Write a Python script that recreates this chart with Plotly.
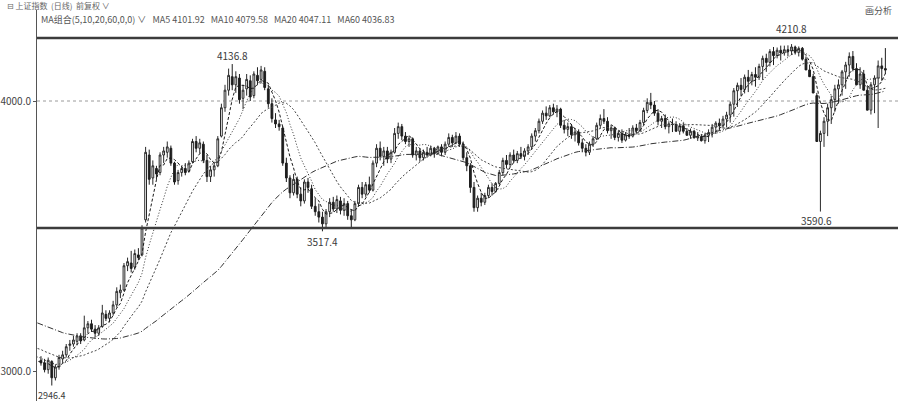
import plotly.graph_objects as go
import pandas as pd

# Daily closes preceding the visible window (used only to seed the moving averages)
warmup_close = [
    3350, 3340, 3360, 3330, 3320, 3310, 3330, 3300, 3290, 3280,
    3300, 3270, 3260, 3250, 3270, 3240, 3230, 3250, 3220, 3210,
    3230, 3200, 3190, 3210, 3180, 3170, 3190, 3160, 3150, 3170,
    3180, 3160, 3150, 3140, 3160, 3150, 3130, 3140, 3120, 3110,
    3130, 3140, 3150, 3130, 3120, 3110, 3100, 3120, 3090, 3080,
    3070, 3090, 3060, 3050, 3070, 3040, 3030, 3050, 3020, 3040,
]

# Visible daily candles: open / high / low / close
open_ = [
    3040, 3030, 3005, 3035, 2975, 3015, 3045, 3060, 3095, 3100,
    3110, 3130, 3115, 3160, 3175, 3155, 3140, 3165, 3210, 3195,
    3215, 3245, 3290, 3300, 3390, 3400, 3385, 3430, 3430, 3560,
    3800, 3715, 3750, 3735, 3800, 3810, 3825, 3770, 3705, 3735,
    3750, 3740, 3775, 3850, 3825, 3840, 3780, 3720, 3745, 3760,
    3870, 3975, 4040, 4090, 4060, 4085, 4010, 4045, 4075, 4020,
    4095, 4080, 4110, 4045, 3990, 3930, 3915, 3900, 3770, 3715,
    3660, 3710, 3655, 3630, 3700, 3675, 3610, 3590, 3570, 3545,
    3590, 3625, 3600, 3630, 3595, 3620, 3575, 3560, 3620, 3680,
    3655, 3690, 3670, 3770, 3825, 3795, 3815, 3785, 3810, 3880,
    3905, 3870, 3850, 3860, 3800, 3815, 3790, 3810, 3800, 3825,
    3805, 3830, 3810, 3840, 3865, 3845, 3870, 3840, 3790, 3760,
    3680, 3605, 3640, 3625, 3650, 3680, 3665, 3695, 3735, 3780,
    3765, 3800, 3780, 3805, 3795, 3815, 3830, 3870, 3890, 3925,
    3955, 3945, 3975, 3960, 3970, 3910, 3895, 3905, 3875, 3885,
    3845, 3825, 3810, 3840, 3860, 3910, 3935, 3925, 3890, 3900,
    3865, 3880, 3855, 3875, 3870, 3900, 3890, 3920, 3965, 3995,
    3985, 3955, 3925, 3935, 3905, 3915, 3913, 3888, 3908, 3888,
    3873, 3888, 3863, 3868, 3853, 3873, 3883, 3903, 3918, 3908,
    3933, 3948, 3988, 4038, 4058, 4043, 4088, 4073, 4098, 4088,
    4128, 4158, 4143, 4183, 4168, 4188, 4178, 4190, 4185, 4200,
    4180, 4195, 4155, 4115, 4090, 4020, 3850, 3880, 3925, 3975,
    4005, 4045, 4060, 4108, 4133.4, 4165, 4120, 4060, 4100, 4040,
    3966.2, 4060, 4085, 4130, 4120,
]
high = [
    3055, 3045, 3050, 3040, 3025, 3060, 3075, 3100, 3115, 3130,
    3140, 3140, 3205, 3185, 3190, 3170, 3170, 3245, 3225, 3225,
    3260, 3310, 3320, 3400, 3420, 3445, 3450, 3455, 3540, 3830,
    3820, 3780, 3760, 3810, 3830, 3850, 3835, 3775, 3745, 3760,
    3770, 3780, 3860, 3870, 3860, 3850, 3800, 3760, 3775, 3870,
    3990, 4060, 4120, 4136.8, 4110, 4100, 4060, 4100, 4095, 4110,
    4125, 4130, 4125, 4060, 4010, 3955, 3930, 3905, 3790, 3725,
    3730, 3720, 3680, 3710, 3715, 3690, 3640, 3620, 3590, 3600,
    3640, 3645, 3650, 3645, 3640, 3630, 3600, 3630, 3690, 3700,
    3700, 3720, 3780, 3840, 3850, 3830, 3830, 3820, 3900, 3920,
    3915, 3885, 3870, 3865, 3830, 3825, 3820, 3830, 3835, 3830,
    3835, 3840, 3850, 3880, 3875, 3885, 3880, 3850, 3810, 3770,
    3700, 3650, 3660, 3660, 3690, 3695, 3700, 3745, 3790, 3800,
    3810, 3820, 3815, 3830, 3825, 3840, 3880, 3900, 3935, 3965,
    3980, 3985, 3990, 3985, 3975, 3930, 3920, 3915, 3900, 3895,
    3860, 3840, 3850, 3870, 3920, 3950, 3970, 3940, 3910, 3905,
    3890, 3895, 3885, 3900, 3910, 3915, 3930, 3975, 4010, 4030,
    4000, 3970, 3945, 3950, 3925, 3935, 3925, 3918, 3920, 3900,
    3898, 3893, 3885, 3878, 3880, 3895, 3915, 3925, 3935, 3945,
    3960, 3998, 4048, 4068, 4085, 4098, 4115, 4108, 4125, 4138,
    4168, 4175, 4192, 4200, 4198, 4205, 4205, 4206, 4210.8, 4205,
    4202, 4200, 4165, 4135, 4100, 4030, 3890, 3940, 3990, 4020,
    4060, 4080, 4115, 4145, 4180, 4185, 4140, 4125, 4115, 4055,
    4070, 4095, 4150, 4160, 4196,
]
low = [
    3020, 2995, 2990, 2946.4, 2965, 3005, 3030, 3050, 3075, 3090,
    3095, 3100, 3110, 3140, 3145, 3125, 3130, 3160, 3185, 3180,
    3205, 3235, 3270, 3295, 3370, 3365, 3375, 3410, 3425, 3550,
    3690, 3690, 3710, 3725, 3770, 3790, 3760, 3690, 3690, 3720,
    3725, 3735, 3770, 3810, 3805, 3770, 3700, 3700, 3720, 3755,
    3865, 3960, 4020, 4040, 4030, 3990, 3970, 4020, 4000, 4010,
    4060, 4065, 4040, 3975, 3920, 3900, 3890, 3760, 3700, 3640,
    3650, 3640, 3610, 3620, 3660, 3600, 3575, 3550, 3517.4, 3530,
    3570, 3590, 3585, 3580, 3575, 3560, 3530, 3555, 3610, 3640,
    3645, 3660, 3665, 3755, 3780, 3760, 3770, 3770, 3805, 3860,
    3855, 3840, 3830, 3790, 3780, 3775, 3780, 3790, 3795, 3790,
    3800, 3795, 3800, 3830, 3830, 3840, 3830, 3780, 3740, 3660,
    3590, 3590, 3610, 3615, 3640, 3650, 3660, 3690, 3725, 3750,
    3755, 3770, 3770, 3785, 3780, 3800, 3820, 3850, 3880, 3915,
    3930, 3940, 3950, 3940, 3900, 3880, 3870, 3860, 3850, 3835,
    3810, 3795, 3800, 3830, 3855, 3900, 3915, 3880, 3860, 3855,
    3850, 3845, 3850, 3860, 3865, 3880, 3885, 3910, 3955, 3970,
    3945, 3910, 3900, 3895, 3880, 3885, 3895, 3875, 3880, 3878,
    3860, 3865, 3852, 3850, 3842, 3848, 3865, 3878, 3890, 3898,
    3902, 3920, 3942, 3978, 4018, 4028, 4033, 4058, 4053, 4078,
    4078, 4108, 4128, 4133, 4158, 4150, 4168, 4165, 4170, 4172,
    4165, 4150, 4140, 4100, 4075, 4010, 3590.6, 3830, 3870, 3915,
    3960, 3990, 4020, 4045, 4090, 4110, 4105, 4045, 4050, 4025,
    3950, 3955, 3900, 4075, 4100, 4105,
]
close = [
    3030, 3005, 3040, 2975, 3015, 3050, 3060, 3090, 3100, 3115,
    3130, 3112, 3160, 3175, 3155, 3140, 3160, 3215, 3195, 3215,
    3245, 3295, 3300, 3390, 3405, 3380, 3435, 3420, 3530, 3810,
    3710, 3760, 3730, 3800, 3815, 3830, 3770, 3700, 3735, 3750,
    3735, 3770, 3850, 3825, 3845, 3780, 3720, 3745, 3760, 3860,
    3975, 4040, 4095, 4060, 4090, 4005, 4040, 4080, 4015, 4100,
    4075, 4115, 4050, 3990, 3935, 3915, 3905, 3770, 3715, 3660,
    3710, 3655, 3630, 3700, 3680, 3610, 3590, 3570, 3545, 3590,
    3625, 3600, 3635, 3595, 3620, 3575, 3560, 3620, 3680, 3655,
    3690, 3670, 3770, 3825, 3795, 3815, 3785, 3810, 3880, 3905,
    3870, 3850, 3860, 3800, 3815, 3790, 3810, 3800, 3825, 3805,
    3830, 3810, 3840, 3865, 3845, 3870, 3840, 3790, 3760, 3680,
    3605, 3640, 3625, 3650, 3680, 3665, 3695, 3735, 3780, 3765,
    3800, 3780, 3805, 3795, 3815, 3830, 3870, 3890, 3925, 3955,
    3945, 3975, 3960, 3970, 3910, 3895, 3905, 3875, 3885, 3845,
    3825, 3810, 3840, 3860, 3910, 3935, 3925, 3890, 3900, 3865,
    3880, 3855, 3875, 3870, 3900, 3890, 3920, 3965, 3995, 3985,
    3955, 3925, 3935, 3905, 3915, 3913, 3888, 3908, 3888, 3873,
    3888, 3863, 3868, 3853, 3873, 3883, 3903, 3918, 3908, 3933,
    3948, 3988, 4038, 4058, 4043, 4088, 4073, 4098, 4088, 4128,
    4158, 4143, 4183, 4168, 4188, 4178, 4190, 4185, 4200, 4180,
    4195, 4155, 4115, 4090, 4029.6, 3850, 3880, 3925, 3975, 4005,
    4045, 4060, 4108, 4133.4, 4165, 4120, 4060, 4100, 4040, 3966.2,
    4060, 4085, 4130, 4120, 4114.6,
]

ma_periods = [5, 10, 20, 60]
ma_styles = {
    5: dict(color="#1a1a1a", width=1, dash="3px,2px"),
    10: dict(color="#333333", width=1, dash="1px,2px"),
    20: dict(color="#444444", width=1, dash="2px,2px"),
    60: dict(color="#333333", width=1, dash="6px,2px,1px,2px"),
}

header_line1 = "⊟ 上证指数  (日线)  前复权 ∨"
header_line2 = "MA组合(5,10,20,60,0,0) ∨   MA5 4101.92   MA10 4079.58   MA20 4047.11   MA60 4036.83"
corner_text = "画分析"

# Marked extremes: (candle index, price, label, side, pixel offset)
extremes = [
    (3, 2946.4, "2946.4", "below", 1),
    (53, 4136.8, "4136.8", "above", -1),
    (78, 3517.4, "3517.4", "below", 1),
    (208, 4210.8, "4210.8", "above", 6),
    (215, 3590.6, "3590.6", "below", -1),
]
upper_level = 4233
lower_level = 3530
ref_level = 4000

n_warm = len(warmup_close)
n = len(close)
all_close = pd.Series(warmup_close + close, dtype=float)
all_x = list(range(-n_warm, n))
x_vis = list(range(n))

FONT = "Noto Sans CJK SC, Noto Sans, DejaVu Sans, sans-serif"

fig = go.Figure()
fig.add_trace(go.Candlestick(
    x=x_vis, open=open_, high=high, low=low, close=close,
    increasing=dict(line=dict(color="#2a2a2a", width=1), fillcolor="#ffffff"),
    decreasing=dict(line=dict(color="#1e1e1e", width=1), fillcolor="#1e1e1e"),
    whiskerwidth=0, hoverinfo="skip", showlegend=False,
))

for p in ma_periods:
    ma = all_close.rolling(p).mean()
    fig.add_trace(go.Scatter(
        x=all_x[n_warm - 2:], y=ma.iloc[n_warm - 2:].tolist(),
        mode="lines", line=ma_styles[p], hoverinfo="skip", showlegend=False,
    ))

for lvl in (upper_level, lower_level):
    fig.add_shape(type="line", xref="paper", x0=0, x1=1, yref="y", y0=lvl, y1=lvl,
                  line=dict(color="#3c3c3c", width=2.5), layer="above")
fig.add_shape(type="line", xref="paper", x0=0, x1=1, yref="y", y0=ref_level, y1=ref_level,
              line=dict(color="#9a9a9a", width=1, dash="dot"), layer="below")

for idx, price, label, side, off in extremes:
    fig.add_annotation(
        x=idx, y=price, text=label, showarrow=False,
        yanchor="bottom" if side == "above" else "top",
        yshift=off if side == "above" else -off,
        font=dict(family=FONT, size=10 if idx != 3 else 9, color="#3a3a3a"),
    )

fig.add_annotation(xref="paper", yref="paper", x=-0.037, y=1.0, xanchor="left", yanchor="middle",
                   yshift=5, text=header_line1, showarrow=False,
                   font=dict(family=FONT, size=8, color="#666666"))
fig.add_annotation(xref="paper", yref="paper", x=0.002, y=1.0, xanchor="left", yanchor="top",
                   yshift=-1, text=header_line2, showarrow=False,
                   font=dict(family=FONT, size=9, color="#555555"))
fig.add_annotation(xref="paper", yref="paper", x=0.995, y=1.0, xanchor="right", yanchor="middle",
                   text=corner_text, showarrow=False,
                   font=dict(family=FONT, size=9, color="#555555"))

fig.update_layout(
    width=900, height=401,
    margin=dict(l=32, r=2, t=10, b=0),
    paper_bgcolor="white", plot_bgcolor="white",
    font=dict(family=FONT, size=10, color="#444444"),
    xaxis=dict(range=[-1.1, 237.5], showgrid=False, zeroline=False, showticklabels=False,
               rangeslider=dict(visible=False), showline=False, fixedrange=True),
    yaxis=dict(range=[2889, 4337], showgrid=False, zeroline=False, showline=True,
               linecolor="#555555", linewidth=1, ticks="outside", ticklen=3, tickcolor="#555555",
               tickvals=[3000, 4000], ticktext=["3000.0", "4000.0"],
               tickfont=dict(family=FONT, size=10, color="#444444"), fixedrange=True),
)

fig.write_html("out.html")
